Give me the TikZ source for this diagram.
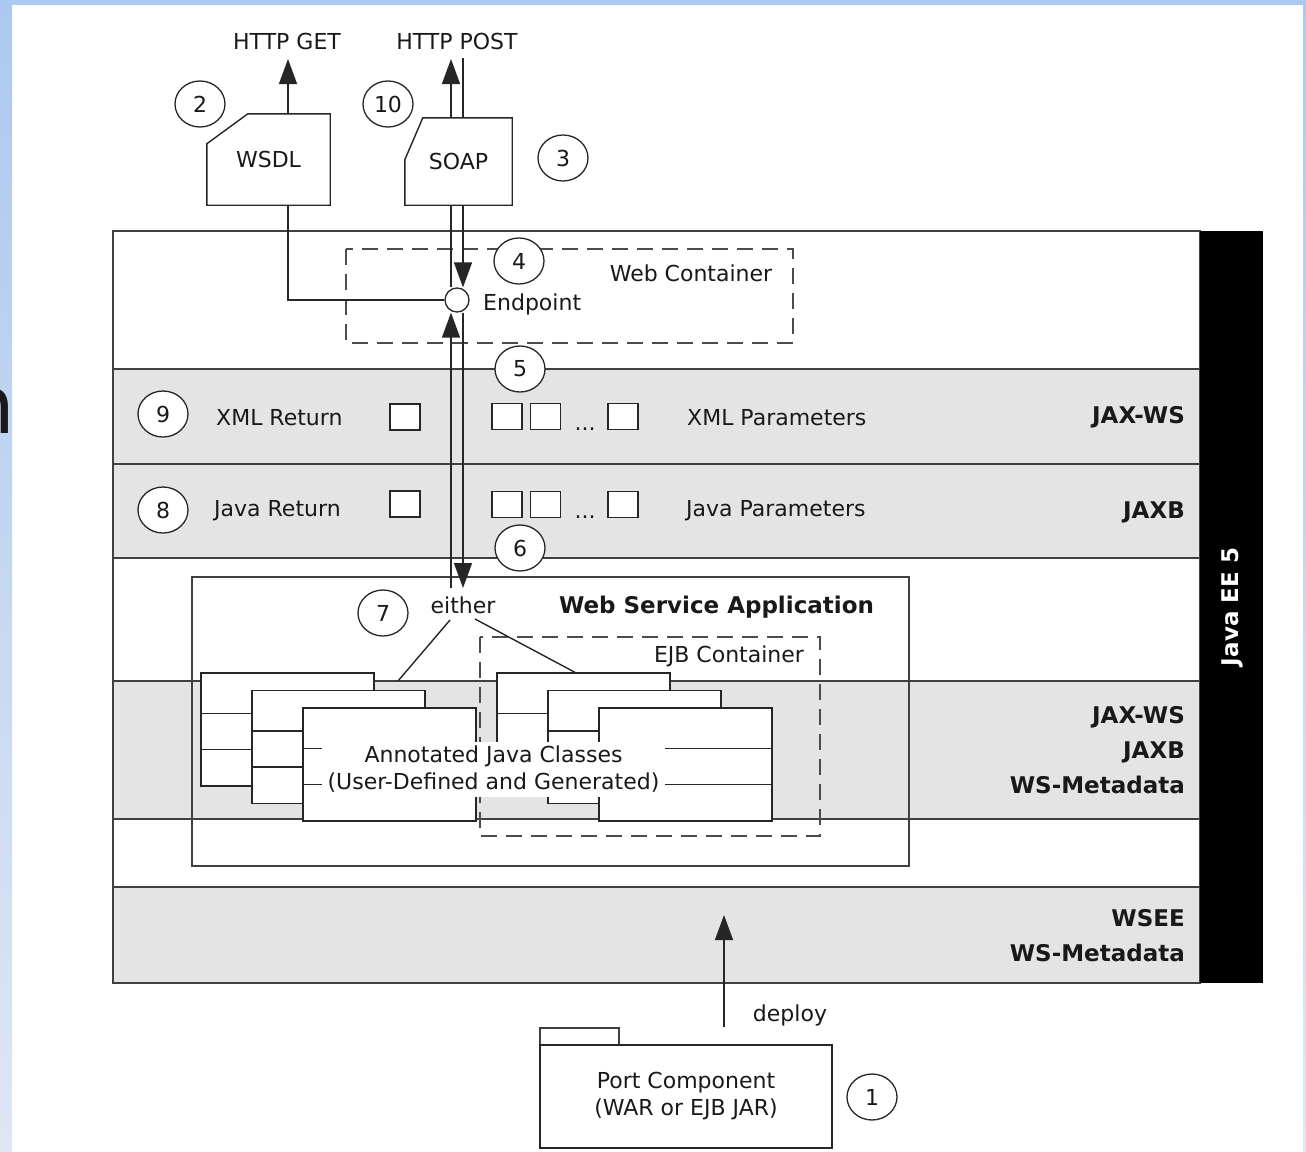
\documentclass[tikz,border=0pt]{standalone}
\usepackage{fontspec}
\setmainfont{DejaVu Sans}
\usetikzlibrary{arrows.meta,calc,shapes.geometric}

\definecolor{LayerGray}{RGB}{228,228,228}
\definecolor{LineGray}{RGB}{64,64,64}
\definecolor{FrameBlue}{RGB}{172,201,239}
\definecolor{FramePale}{RGB}{222,230,243}

\begin{document}
\begin{tikzpicture}[x=1pt, y=-1pt,
        every node/.style={font=\fontsize{22}{27}\selectfont, inner sep=0pt, text=black!90},
        Layer/.style={draw=LineGray, line width=1.5pt},
        Wire/.style={draw=black!85, line width=1.4pt},
        Num/.style={draw=black!85, line width=1.3pt, ellipse, fill=white, minimum width=50pt, minimum height=46pt},
        Tag/.style={font=\fontsize{23}{35}\selectfont\bfseries, anchor=east, align=right},
        Slot/.style={draw=black!85, line width=1.3pt, fill=white, minimum width=30pt, minimum height=26pt},
        DashBox/.style={draw=black!70, line width=1.4pt, dash pattern=on 16pt off 9pt},
        Cls/.style={draw=black!85, line width=1.3pt, fill=white, minimum width=173pt, minimum height=113pt},
        Tip/.style={-{Triangle[length=25pt, width=18pt]}},
        ]
    \useasboundingbox (0,0) rectangle (1306,1151);
    \shade[top color=FrameBlue, bottom color=FramePale] (0,0) rectangle (12,1151);
    \shade[top color=FrameBlue, bottom color=FramePale] (1303,0) rectangle (1306,1151);
    \fill[FrameBlue] (0,0) rectangle (1306,5);
    \node[font=\fontsize{80}{80}\selectfont, anchor=base east] (edge) at (15,433) {n};

    \foreach \ya/\yb/\col in {231/369/white, 369/464/LayerGray, 464/558/LayerGray,
            558/681/white, 681/819/LayerGray, 819/887/white, 887/983/LayerGray}
        \draw[Layer, fill=\col] (113,\ya) rectangle (1200,\yb);
    \fill (1200,231) rectangle (1263,983);
    \node[rotate=90, text=white, font=\fontsize{23}{27}\selectfont\bfseries] (javaee) at (1232,607) {Java EE 5};

    \node[Tag] (jaxws) at (1185,417) {JAX-WS};
    \node[Tag] (jaxb) at (1185,512) {JAXB};
    \node[Tag] (bindings) at (1185,750) {JAX-WS\\JAXB\\WS-Metadata};
    \node[Tag] (wsee) at (1185,936) {WSEE\\WS-Metadata};

    \draw[Layer] (192,577) rectangle (909,866);
    \node[anchor=base, font=\fontsize{23}{27}\selectfont\bfseries] (wsa) at (716.5,613) {Web Service Application};
    \draw[DashBox] (480,637) rectangle (820,836);
    \node (ejbc) at (729,656) {EJB Container};
    \draw[DashBox] (346,249) rectangle (793,343);
    \node (webc) at (691,273) {Web Container};

    \foreach \dx/\g in {0/a, 296/b} {
        \foreach \k/\sx/\sy in {1/0/0, 2/51/17.5, 3/102/35} {
            \node[Cls] (\g\k) at (287.5+\dx+\sx, 729.5+\sy) {};
            \draw[Wire] ($(\g\k.north west)+(0,41)$) -- ($(\g\k.north east)+(0,41)$)
                ($(\g\k.north west)+(0,77)$) -- ($(\g\k.north east)+(0,77)$);
        }
    }
    \node[fill=white, minimum width=343pt, minimum height=55pt, align=center] (classes) at (493.5,769.5)
        {Annotated Java Classes\\(User-Defined and Generated)};

    \node (either) at (463,605) {either};
    \coordinate (eitherL) at (450,620);
    \coordinate (eitherR) at (475,619);
    \coordinate (classtop) at (398,681);
    \draw[Wire] (eitherL) -- (classtop);
    \draw[Wire] (eitherR) -- (b1.north -| 575,0);

    \node (get) at (287,41) {HTTP GET};
    \node (post) at (457,41) {HTTP POST};
    \node[minimum width=123pt, minimum height=91pt] (wsdl) at (268.5,159.5) {WSDL};
    \draw[Wire] ($(wsdl.north west)+(41,0)$) -- (wsdl.north east) -- (wsdl.south east)
        -- (wsdl.south west) -- ($(wsdl.north west)+(0,30)$) -- cycle;
    \node[minimum width=107pt, minimum height=87pt] (soap) at (458.5,161.5) {SOAP};
    \draw[Wire] ($(soap.north west)+(18,0)$) -- (soap.north east) -- (soap.south east)
        -- (soap.south west) -- ($(soap.north west)+(0,42)$) -- cycle;

    \coordinate (getend) at (288,59);
    \coordinate (resx) at (451,59);
    \coordinate (reqx) at (463,58);
    \coordinate (eithertop) at (457,588);
    \coordinate (deploybase) at (724,1027);
    \coordinate (deploytip) at (724,915);
    \node[draw=black!85, line width=1.3pt, circle, fill=white, minimum size=24pt] (ep) at (457,300) {};
    \node[anchor=base west] (eplabel) at (483,310) {Endpoint};

    \begin{scope}[Wire, Tip]
        \draw (wsdl.north -| getend) -- (getend);
        \draw (soap.north -| resx) -- (resx);
        \draw (soap.south -| reqx) -- (ep.north -| reqx);
        \draw (eithertop -| resx) -- (ep.south -| resx);
        \draw (ep.south -| reqx) -- (eithertop -| reqx);
        \draw (deploybase) -- (deploytip);
    \end{scope}
    \draw[Wire] (soap.north -| reqx) -- (reqx);
    \draw[Wire] (soap.south -| resx) -- (ep.north -| resx);
    \draw[Wire] (wsdl.south -| getend) |- (ep.west);

    \node[anchor=west] (xmlret) at (216,418) {XML Return};
    \node[Slot] (xr) at (405,417) {};
    \node[Slot] (xp1) at (507,416.5) {};
    \node[Slot] (xp2) at (545.5,416.5) {};
    \node[anchor=base] (xdots) at (585,430) {...};
    \node[Slot] (xpn) at (623,416.5) {};
    \node[anchor=west] (xmlpar) at (687,418) {XML Parameters};

    \node[anchor=west] (javaret) at (214,511) {Java Return};
    \node[Slot] (jr) at (405,504) {};
    \node[Slot] (jp1) at (507,504.5) {};
    \node[Slot] (jp2) at (545.5,504.5) {};
    \node[anchor=base] (jdots) at (585,518) {...};
    \node[Slot] (jpn) at (623,504.5) {};
    \node[anchor=west] (javapar) at (686,511) {Java Parameters};

    \node[Num] (n1) at (872,1097) {1};
    \node[Num] (n2) at (200,104) {2};
    \node[Num] (n3) at (563,158) {3};
    \node[Num] (n4) at (519,261) {4};
    \node[Num] (n5) at (520,369) {5};
    \node[Num] (n6) at (520,548) {6};
    \node[Num] (n7) at (383,613) {7};
    \node[Num] (n8) at (163,510) {8};
    \node[Num] (n9) at (163,414) {9};
    \node[Num] (n10) at (388,104) {10};

    \draw[Layer] (540,1028) rectangle (619,1045);
    \node[draw=black!85, line width=1.5pt, minimum width=292pt, minimum height=103pt, align=center] (port)
        at (686,1096.5) {Port Component\\(WAR or EJB JAR)};
    \node[anchor=base] (deploy) at (790,1021) {deploy};
\end{tikzpicture}
\end{document}
